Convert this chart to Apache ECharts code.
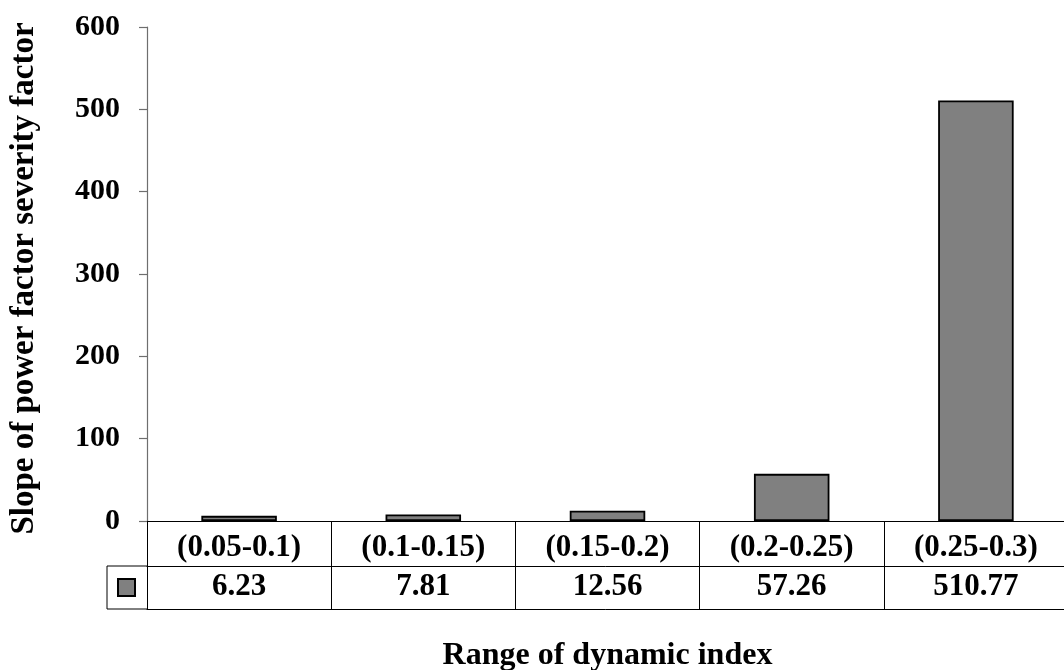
<!DOCTYPE html>
<html>
<head>
<meta charset="utf-8">
<script src="https://cdn.jsdelivr.net/npm/echarts@6/dist/echarts.min.js"></script>
<style>
  html, body { margin: 0; padding: 0; background: #fff; }
  #chart { width: 1064px; height: 670px; }
</style>
</head>
<body>
<div id="chart"></div>
<script>
// Ranges of the dynamic index and the slope measured in each one
const categories = ['(0.05-0.1)', '(0.1-0.15)', '(0.15-0.2)', '(0.2-0.25)', '(0.25-0.3)'];
const slopeValues = [6.23, 7.81, 12.56, 57.26, 510.77];
const yTicks = [0, 100, 200, 300, 400, 500, 600];

const FONT = '"Liberation Serif", "Times New Roman", serif';
const txt = (size) => ({ fontFamily: FONT, fontWeight: 'bold', fontSize: size, color: '#000' });

const chart = echarts.init(document.getElementById('chart'), null, { renderer: 'canvas' });

const gridLeft = 147, gridTop = 27, gridBottom = 149;
const axisY = 670 - gridBottom;
const rowH1 = 45, rowH2 = 43;

chart.setOption({
  animation: false,
  backgroundColor: '#fff',
  grid: {
    left: gridLeft, right: -4, top: gridTop, bottom: gridBottom,
    containLabel: false, outerBoundsMode: 'none'
  },
  legend: {
    left: 117, top: 578, padding: 0,
    itemWidth: 17, itemHeight: 17, itemGap: 0,
    icon: 'rect',
    formatter: () => '',
    textStyle: { fontSize: 1 },
    data: ['Slope']
  },
  xAxis: [
    {
      // category row of the data table
      type: 'category',
      data: categories,
      boundaryGap: true,
      axisLine: { show: true, lineStyle: { color: '#000', width: 1.2 } },
      axisTick: { show: true, interval: 0, length: rowH1 + rowH2, lineStyle: { color: '#000', width: 1 } },
      axisLabel: { ...txt(31), interval: 0, margin: 27, verticalAlign: 'middle' },
      name: 'Range of dynamic index',
      nameLocation: 'middle',
      nameGap: 135,
      nameTextStyle: { ...txt(32), verticalAlign: 'middle' }
    },
    {
      // value row of the data table
      type: 'category',
      data: slopeValues.map(v => v.toFixed(2)),
      position: 'bottom',
      offset: rowH1,
      axisLine: { show: true, lineStyle: { color: '#000', width: 1 } },
      axisTick: { show: false },
      axisLabel: { ...txt(31), interval: 0, margin: 21, verticalAlign: 'middle' }
    },
    {
      // bottom border of the data table
      type: 'category',
      data: categories,
      position: 'bottom',
      offset: rowH1 + rowH2,
      axisLine: { show: true, lineStyle: { color: '#000', width: 1 } },
      axisTick: { show: false },
      axisLabel: { show: false }
    }
  ],
  yAxis: {
    type: 'value',
    min: 0, max: 600, interval: 100,
    axisLine: { show: true, lineStyle: { color: '#6e6e6e', width: 1.2 } },
    axisTick: { show: true, length: 8, lineStyle: { color: '#6e6e6e', width: 1.2 } },
    splitLine: { show: false },
    axisLabel: {
      ...txt(30), margin: 27,
      formatter: (v) => (yTicks.includes(v) ? String(v) : '')
    },
    name: 'Slope of power factor severity factor',
    nameLocation: 'middle',
    nameGap: 123,
    nameRotate: 90,
    nameTextStyle: { ...txt(33), verticalAlign: 'middle', padding: [0, 9, 0, 0] }
  },
  series: [
    {
      name: 'Slope',
      type: 'bar',
      data: slopeValues,
      barCategoryGap: '59%',
      itemStyle: { color: '#808080', borderColor: '#000', borderWidth: 1.8 }
    }
  ],
  graphic: [
    {
      // legend-key cell on the left of the value row
      type: 'polyline',
      shape: {
        points: [[gridLeft, axisY + rowH1], [107, axisY + rowH1], [107, axisY + rowH1 + rowH2], [gridLeft, axisY + rowH1 + rowH2]]
      },
      style: { stroke: '#000', lineWidth: 1, fill: null },
      silent: true
    }
  ]
});
</script>
</body>
</html>
